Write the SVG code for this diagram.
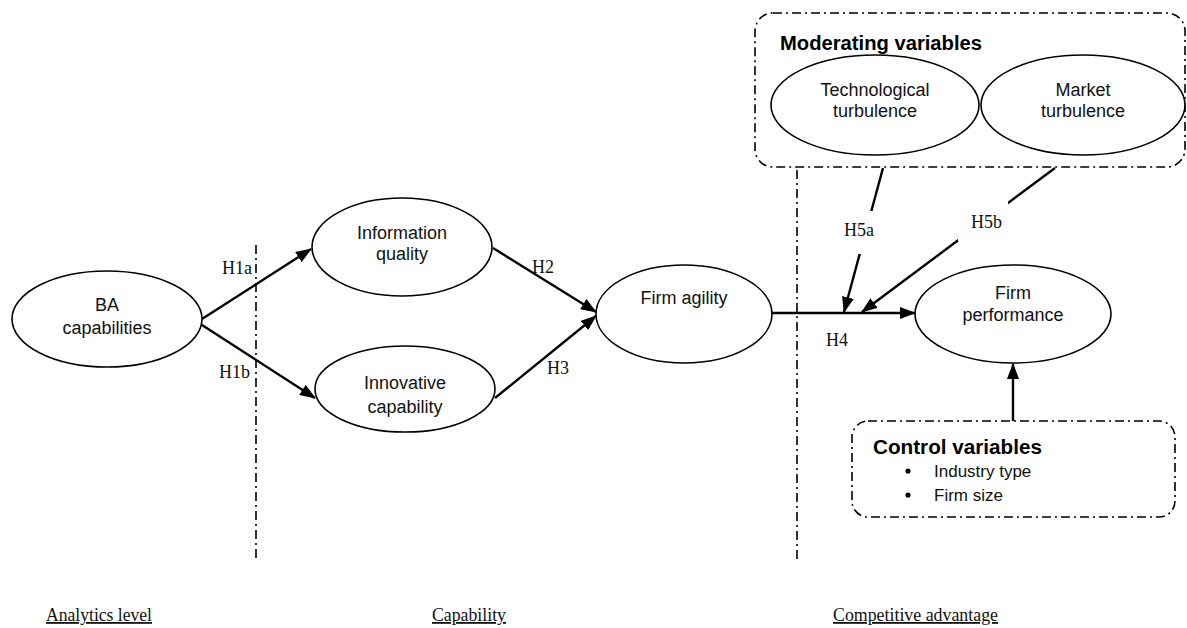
<svg xmlns="http://www.w3.org/2000/svg" width="1187" height="628" viewBox="0 0 1187 628">
<style>
.node ellipse{fill:#fff;stroke:#000;stroke-width:1.6}
.t{font-family:"Liberation Sans",Arial,sans-serif;font-size:18px;fill:#111;text-anchor:middle}
.b{font-family:"Liberation Sans",Arial,sans-serif;font-size:20px;font-weight:bold;fill:#000}
.s{font-family:"Liberation Sans",Arial,sans-serif;font-size:17px;fill:#111}
.h{font-family:"Liberation Serif","Times New Roman",serif;font-size:18px;fill:#111}
.u{font-family:"Liberation Serif","Times New Roman",serif;font-size:18px;fill:#111;text-decoration:underline}
.arr{stroke:#000;stroke-width:2.4;fill:none;marker-end:url(#ah)}
.dd{stroke:#000;stroke-width:1.6;fill:none;stroke-dasharray:9 4 2 4}
</style>
<defs>
<marker id="ah" markerUnits="userSpaceOnUse" markerWidth="16" markerHeight="12" refX="15" refY="6" orient="auto">
<path d="M0,0 L16,6 L0,12 Z" fill="#000"/>
</marker>
</defs>
<rect width="1187" height="628" fill="#fff"/>
<g id="dividers">
<line class="dd" x1="256" y1="245" x2="256" y2="560"/>
<line class="dd" x1="797" y1="170" x2="797" y2="560"/>
</g>
<g id="moderating">
<rect class="dd" x="755" y="13" width="430" height="154" rx="18"/>
<text class="b" x="780" y="50" textLength="202" lengthAdjust="spacingAndGlyphs">Moderating variables</text>
</g>
<g id="control">
<rect class="dd" x="852" y="421" width="323" height="96" rx="16"/>
<text class="b" x="873" y="454" textLength="169" lengthAdjust="spacingAndGlyphs">Control variables</text>
<circle cx="908" cy="471" r="2.6" fill="#000"/>
<circle cx="908" cy="495" r="2.6" fill="#000"/>
<text class="s" x="934" y="477">Industry type</text>
<text class="s" x="934" y="501">Firm size</text>
</g>
<g id="connectors">
<line class="arr" x1="202" y1="319" x2="311" y2="249"/>
<line class="arr" x1="202" y1="325" x2="315" y2="398"/>
<line class="arr" x1="493" y1="248" x2="596" y2="312"/>
<line class="arr" x1="495" y1="398" x2="596" y2="316"/>
<line class="arr" x1="772" y1="313" x2="915" y2="313"/>
<line class="arr" x1="883" y1="168" x2="844" y2="312"/>
<line class="arr" x1="1055" y1="168" x2="862" y2="312"/>
<line class="arr" x1="1013" y1="421" x2="1013" y2="364"/>
</g>
<g id="labels">
<text class="h" x="222" y="274">H1a</text>
<text class="h" x="219" y="378">H1b</text>
<text class="h" x="532" y="273">H2</text>
<text class="h" x="547" y="374">H3</text>
<text class="h" x="826" y="346">H4</text>
<rect x="838" y="211" width="44" height="43" fill="#fff"/>
<text class="h" x="844" y="236">H5a</text>
<rect x="958" y="200" width="50" height="41" fill="#fff"/>
<text class="h" x="971" y="228">H5b</text>
</g>
<g id="ba" class="node">
<ellipse cx="107" cy="319" rx="95" ry="48"/>
<text class="t" x="107" y="311">BA</text>
<text class="t" x="107" y="334">capabilities</text>
</g>
<g id="infoq" class="node">
<ellipse cx="402" cy="247" rx="90" ry="49"/>
<text class="t" x="402" y="239">Information</text>
<text class="t" x="402" y="260">quality</text>
</g>
<g id="innov" class="node">
<ellipse cx="405" cy="389" rx="90" ry="43"/>
<text class="t" x="405" y="389">Innovative</text>
<text class="t" x="405" y="413">capability</text>
</g>
<g id="agility" class="node">
<ellipse cx="684" cy="314" rx="88" ry="49"/>
<text class="t" x="684" y="304">Firm agility</text>
</g>
<g id="perf" class="node">
<ellipse cx="1013" cy="314" rx="98" ry="49"/>
<text class="t" x="1013" y="299">Firm</text>
<text class="t" x="1013" y="321">performance</text>
</g>
<g id="tech" class="node">
<ellipse cx="875" cy="105" rx="104" ry="50"/>
<text class="t" x="875" y="96">Technological</text>
<text class="t" x="875" y="117">turbulence</text>
</g>
<g id="market" class="node">
<ellipse cx="1083" cy="105" rx="102" ry="50"/>
<text class="t" x="1083" y="96">Market</text>
<text class="t" x="1083" y="117">turbulence</text>
</g>
<g id="levels">
<text class="u" x="46" y="621" textLength="106" lengthAdjust="spacingAndGlyphs">Analytics level</text>
<text class="u" x="432" y="621" textLength="74" lengthAdjust="spacingAndGlyphs">Capability</text>
<text class="u" x="833" y="621" textLength="165" lengthAdjust="spacingAndGlyphs">Competitive advantage</text>
</g>
</svg>
